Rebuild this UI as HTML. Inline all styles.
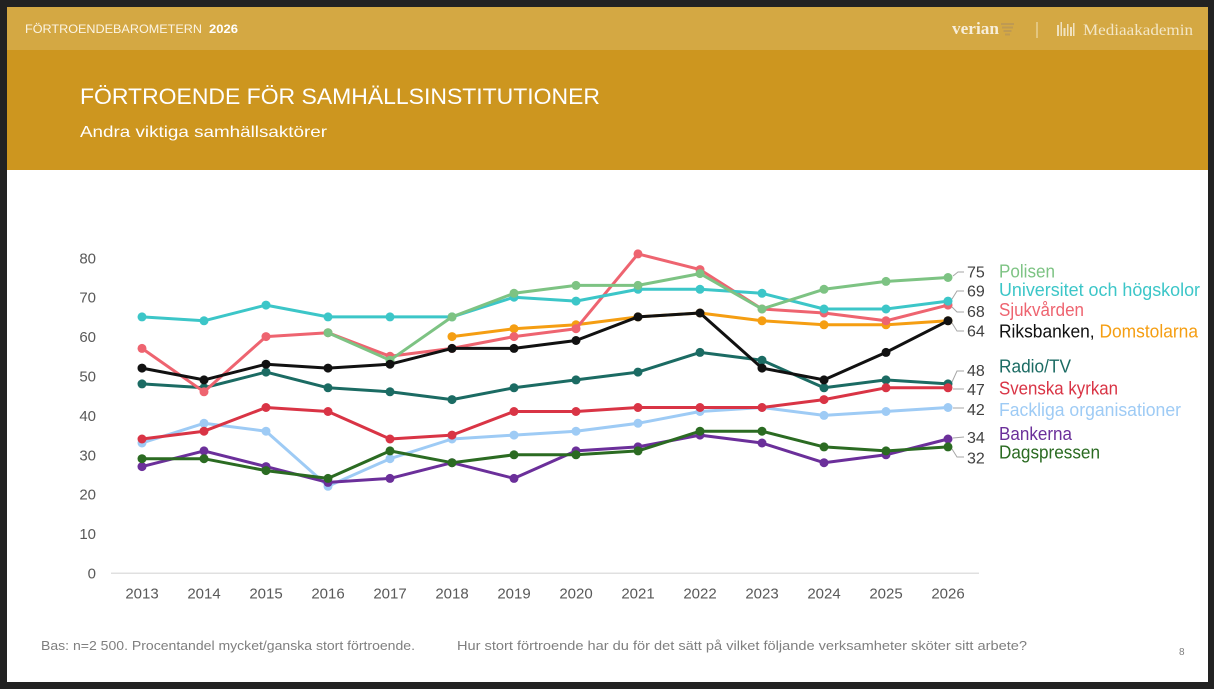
<!DOCTYPE html>
<html>
<head>
<meta charset="utf-8">
<style>
  html, body { margin:0; padding:0; background:#222222; }
  body { width:1214px; height:689px; overflow:hidden; }
  svg { display:block; }
  text { font-family: "Liberation Sans", "DejaVu Sans", sans-serif; }
  .serif { font-family: "Liberation Serif", "DejaVu Serif", serif; }
</style>
</head>
<body>
<svg width="1214" height="689" viewBox="0 0 1214 689" xmlns="http://www.w3.org/2000/svg">
  <defs>
    <marker id="mPol" markerUnits="userSpaceOnUse" markerWidth="10" markerHeight="10" refX="5" refY="5"><circle cx="5" cy="5" r="4.5" fill="#7dc383"/></marker>
    <marker id="mUni" markerUnits="userSpaceOnUse" markerWidth="10" markerHeight="10" refX="5" refY="5"><circle cx="5" cy="5" r="4.5" fill="#3cc6c8"/></marker>
    <marker id="mSjuk" markerUnits="userSpaceOnUse" markerWidth="10" markerHeight="10" refX="5" refY="5"><circle cx="5" cy="5" r="4.5" fill="#ee6470"/></marker>
    <marker id="mRiks" markerUnits="userSpaceOnUse" markerWidth="10" markerHeight="10" refX="5" refY="5"><circle cx="5" cy="5" r="4.5" fill="#111111"/></marker>
    <marker id="mDom" markerUnits="userSpaceOnUse" markerWidth="10" markerHeight="10" refX="5" refY="5"><circle cx="5" cy="5" r="4.5" fill="#f59e12"/></marker>
    <marker id="mRad" markerUnits="userSpaceOnUse" markerWidth="10" markerHeight="10" refX="5" refY="5"><circle cx="5" cy="5" r="4.5" fill="#1b6b63"/></marker>
    <marker id="mSv" markerUnits="userSpaceOnUse" markerWidth="10" markerHeight="10" refX="5" refY="5"><circle cx="5" cy="5" r="4.5" fill="#d93445"/></marker>
    <marker id="mFack" markerUnits="userSpaceOnUse" markerWidth="10" markerHeight="10" refX="5" refY="5"><circle cx="5" cy="5" r="4.5" fill="#9ecbf5"/></marker>
    <marker id="mBank" markerUnits="userSpaceOnUse" markerWidth="10" markerHeight="10" refX="5" refY="5"><circle cx="5" cy="5" r="4.5" fill="#6b2f9a"/></marker>
    <marker id="mDag" markerUnits="userSpaceOnUse" markerWidth="10" markerHeight="10" refX="5" refY="5"><circle cx="5" cy="5" r="4.5" fill="#2b6b22"/></marker>
  </defs>

  <!-- frame -->
  <rect x="0" y="0" width="1214" height="689" fill="#222222"/>
  <rect x="7" y="7" width="1201" height="675" fill="#ffffff"/>
  <!-- header bands -->
  <rect x="7" y="7" width="1201" height="43" fill="#d4a843"/>
  <rect x="7" y="50" width="1201" height="120" fill="#cd961f"/>

  <!-- top bar text -->
  <text x="25" y="33" font-size="11.5" fill="#fbf4e4" textLength="177" lengthAdjust="spacingAndGlyphs">FÖRTROENDEBAROMETERN</text>
  <text x="209" y="33" font-size="11.5" font-weight="bold" fill="#ffffff" textLength="29" lengthAdjust="spacingAndGlyphs">2026</text>

  <!-- logos -->
  <text class="serif" x="952" y="34" font-size="17" font-weight="bold" fill="#f7eedb" textLength="47" lengthAdjust="spacingAndGlyphs">verian</text>
  <g fill="#bf9a52">
    <rect x="1001" y="23" width="13" height="2"/>
    <rect x="1002" y="26.5" width="11" height="2"/>
    <rect x="1003.5" y="30" width="8" height="2"/>
    <rect x="1005" y="33.5" width="5" height="2"/>
  </g>
  <rect x="1036.5" y="22" width="1" height="16" fill="#f2e3bd"/>
  <g fill="#f0e2c0">
    <rect x="1057" y="25" width="2" height="11"/>
    <rect x="1060.5" y="22" width="1.5" height="14"/>
    <rect x="1063.5" y="28" width="2" height="8"/>
    <rect x="1067" y="24" width="1.5" height="12"/>
    <rect x="1070" y="27" width="2" height="9"/>
    <rect x="1073" y="23" width="1.5" height="13"/>
  </g>
  <text class="serif" x="1083" y="35" font-size="16" fill="#f3e6c6" textLength="110" lengthAdjust="spacingAndGlyphs">Mediaakademin</text>

  <!-- titles -->
  <text x="80" y="104" font-size="22" fill="#ffffff" textLength="520" lengthAdjust="spacingAndGlyphs">FÖRTROENDE FÖR SAMHÄLLSINSTITUTIONER</text>
  <text x="80" y="137" font-size="16" fill="#ffffff" textLength="247" lengthAdjust="spacingAndGlyphs">Andra viktiga samhällsaktörer</text>

  <!-- y axis labels -->
  <g font-size="15" fill="#595959" text-anchor="end">
    <text x="96" y="263.3">80</text>
    <text x="96" y="302.7">70</text>
    <text x="96" y="342.1">60</text>
    <text x="96" y="381.5">50</text>
    <text x="96" y="420.9">40</text>
    <text x="96" y="460.3">30</text>
    <text x="96" y="499.7">20</text>
    <text x="96" y="539.1">10</text>
    <text x="96" y="578.5">0</text>
  </g>

  <!-- baseline -->
  <rect x="111" y="572.5" width="868" height="1.5" fill="#e0e0e0"/>

  <!-- x axis labels -->
  <g font-size="15" fill="#595959" text-anchor="middle">
    <text x="142" y="598.5">2013</text>
    <text x="204" y="598.5">2014</text>
    <text x="266" y="598.5">2015</text>
    <text x="328" y="598.5">2016</text>
    <text x="390" y="598.5">2017</text>
    <text x="452" y="598.5">2018</text>
    <text x="514" y="598.5">2019</text>
    <text x="576" y="598.5">2020</text>
    <text x="638" y="598.5">2021</text>
    <text x="700" y="598.5">2022</text>
    <text x="762" y="598.5">2023</text>
    <text x="824" y="598.5">2024</text>
    <text x="886" y="598.5">2025</text>
    <text x="948" y="598.5">2026</text>
  </g>

  <!-- series -->
  <g fill="none" stroke-width="3" stroke-linejoin="round" stroke-linecap="round">
    <polyline stroke="#f59e12" marker-start="url(#mDom)" marker-mid="url(#mDom)" marker-end="url(#mDom)"
      points="452,336.6 514,328.7 576,324.8 638,316.9 700,313.0 762,320.8 824,324.8 886,324.8 948,320.8"/>
    <polyline stroke="#9ecbf5" marker-start="url(#mFack)" marker-mid="url(#mFack)" marker-end="url(#mFack)"
      points="142,443.0 204,423.3 266,431.2 328,486.3 390,458.7 452,439.0 514,435.1 576,431.2 638,423.3 700,411.5 762,407.5 824,415.4 886,411.5 948,407.5"/>
    <polyline stroke="#6b2f9a" marker-start="url(#mBank)" marker-mid="url(#mBank)" marker-end="url(#mBank)"
      points="142,466.6 204,450.9 266,466.6 328,482.4 390,478.4 452,462.7 514,478.4 576,450.9 638,446.9 700,435.1 762,443.0 824,462.7 886,454.8 948,439.0"/>
    <polyline stroke="#2b6b22" marker-start="url(#mDag)" marker-mid="url(#mDag)" marker-end="url(#mDag)"
      points="142,458.7 204,458.7 266,470.6 328,478.4 390,450.9 452,462.7 514,454.8 576,454.8 638,450.9 700,431.2 762,431.2 824,446.9 886,450.9 948,446.9"/>
    <polyline stroke="#1b6b63" marker-start="url(#mRad)" marker-mid="url(#mRad)" marker-end="url(#mRad)"
      points="142,383.9 204,387.8 266,372.1 328,387.8 390,391.8 452,399.6 514,387.8 576,379.9 638,372.1 700,352.4 762,360.2 824,387.8 886,379.9 948,383.9"/>
    <polyline stroke="#d93445" marker-start="url(#mSv)" marker-mid="url(#mSv)" marker-end="url(#mSv)"
      points="142,439.0 204,431.2 266,407.5 328,411.5 390,439.0 452,435.1 514,411.5 576,411.5 638,407.5 700,407.5 762,407.5 824,399.6 886,387.8 948,387.8"/>
    <polyline stroke="#ee6470" marker-start="url(#mSjuk)" marker-mid="url(#mSjuk)" marker-end="url(#mSjuk)"
      points="142,348.4 204,391.8 266,336.6 328,332.7 390,356.3 452,348.4 514,336.6 576,328.7 638,253.9 700,269.6 762,309.0 824,313.0 886,320.8 948,305.1"/>
    <polyline stroke="#3cc6c8" marker-start="url(#mUni)" marker-mid="url(#mUni)" marker-end="url(#mUni)"
      points="142,316.9 204,320.8 266,305.1 328,316.9 390,316.9 452,316.9 514,297.2 576,301.1 638,289.3 700,289.3 762,293.3 824,309.0 886,309.0 948,301.1"/>
    <polyline stroke="#7dc383" marker-start="url(#mPol)" marker-mid="url(#mPol)" marker-end="url(#mPol)"
      points="328,332.7 390,360.2 452,316.9 514,293.3 576,285.4 638,285.4 700,273.6 762,309.0 824,289.3 886,281.4 948,277.5"/>
    <polyline stroke="#111111" marker-start="url(#mRiks)" marker-mid="url(#mRiks)" marker-end="url(#mRiks)"
      points="142,368.1 204,379.9 266,364.2 328,368.1 390,364.2 452,348.4 514,348.4 576,340.5 638,316.9 700,313.0 762,368.1 824,379.9 886,352.4 948,320.8"/>
  </g>

  <!-- leader lines -->
  <g fill="none" stroke="#a6a6a6" stroke-width="1">
    <polyline points="953,276 958,272 964,272"/>
    <polyline points="952,299 957,291 964,291"/>
    <polyline points="952,307 957,312 964,312"/>
    <polyline points="952,323 957,331 964,331"/>
    <polyline points="952,382 957,371 964,371"/>
    <polyline points="953,389 964,389"/>
    <polyline points="953,408 964,408"/>
    <polyline points="953,438 964,437"/>
    <polyline points="952,449 957,457 964,457"/>
  </g>

  <!-- value labels -->
  <g font-size="16" fill="#404040">
    <text x="967" y="277.5">75</text>
    <text x="967" y="296.5">69</text>
    <text x="967" y="317">68</text>
    <text x="967" y="336.5">64</text>
    <text x="967" y="376">48</text>
    <text x="967" y="395">47</text>
    <text x="967" y="415">42</text>
    <text x="967" y="443">34</text>
    <text x="967" y="463.5">32</text>
  </g>

  <!-- legend -->
  <g font-size="18">
    <text x="999" y="277.3" fill="#7dc383" textLength="56" lengthAdjust="spacingAndGlyphs">Polisen</text>
    <text x="999" y="296" fill="#3cc6c8" textLength="201" lengthAdjust="spacingAndGlyphs">Universitet och högskolor</text>
    <text x="999" y="316" fill="#ee6470" textLength="85" lengthAdjust="spacingAndGlyphs">Sjukvården</text>
    <text x="999" y="337.3" textLength="199" lengthAdjust="spacingAndGlyphs"><tspan fill="#111111">Riksbanken, </tspan><tspan fill="#f59e12">Domstolarna</tspan></text>
    <text x="999" y="372.7" fill="#1b6b63" textLength="72" lengthAdjust="spacingAndGlyphs">Radio/TV</text>
    <text x="999" y="394.3" fill="#d93445" textLength="119" lengthAdjust="spacingAndGlyphs">Svenska kyrkan</text>
    <text x="999" y="416" fill="#9ecbf5" textLength="182" lengthAdjust="spacingAndGlyphs">Fackliga organisationer</text>
    <text x="999" y="440" fill="#6b2f9a" textLength="73" lengthAdjust="spacingAndGlyphs">Bankerna</text>
    <text x="999" y="458.3" fill="#2b6b22" textLength="101" lengthAdjust="spacingAndGlyphs">Dagspressen</text>
  </g>

  <!-- footer -->
  <text x="41" y="650" font-size="12.5" fill="#7f7f7f" textLength="374" lengthAdjust="spacingAndGlyphs">Bas: n=2 500. Procentandel mycket/ganska stort förtroende.</text>
  <text x="457" y="650" font-size="12.5" fill="#7f7f7f" textLength="570" lengthAdjust="spacingAndGlyphs">Hur stort förtroende har du för det sätt på vilket följande verksamheter sköter sitt arbete?</text>
  <text x="1179" y="655" font-size="10" fill="#7f7f7f">8</text>
</svg>
</body>
</html>
